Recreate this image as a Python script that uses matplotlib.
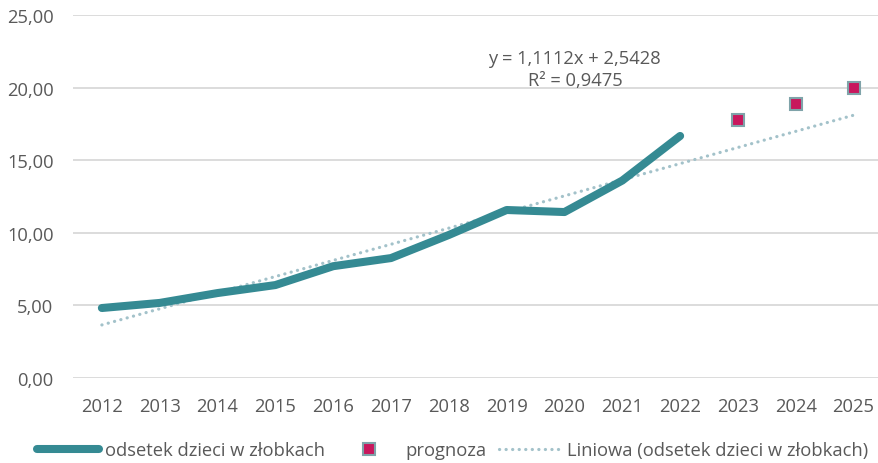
import numpy as np
import matplotlib
matplotlib.use("Agg")
from matplotlib import pyplot as plt

plt.rcParams['font.family'] = ['Open Sans', 'DejaVu Sans']

# odsetek dzieci w żłobkach (%)
lata = [2012, 2013, 2014, 2015, 2016, 2017, 2018, 2019, 2020, 2021, 2022]
odsetek = [4.82, 5.17, 5.85, 6.40, 7.70, 8.26, 9.85, 11.57, 11.43, 13.60, 16.67]

# prognoza
lata_prog = [2023, 2024, 2025]
prognoza = [17.77, 18.87, 19.97]

# linia trendu: y = a*x + b, x = 1..14
a = 1.1112
b = 2.5428
r2 = 0.9475

wszystkie_lata = lata + lata_prog
szary = '#595959'
fs = 13.2

fig = plt.figure(figsize=(8.79, 4.64), dpi=100)
ax = fig.add_axes([0.083, 0.1832, 0.921, 0.7823])

idx = np.arange(1, len(wszystkie_lata) + 1)
trend = a * idx + b

ax.plot(lata, odsetek, color='#358A93', lw=5.8, solid_capstyle='round',
        solid_joinstyle='round', label='odsetek dzieci w złobkach', zorder=3)
ax.plot(lata_prog, prognoza, ls='none', marker='s', ms=9, mfc='#C8175D',
        mec='#7FA3A9', mew=1.5, label='prognoza', zorder=4)
ax.plot(wszystkie_lata, trend, ls=(0, (0.05, 2.0)), lw=2.3, color='#A3C2CA',
        dash_capstyle='round', label='Liniowa (odsetek dzieci w złobkach)', zorder=2)

ax.set_xlim(2011.5, 2025.5)
ax.set_ylim(0, 25)
ax.set_xticks(wszystkie_lata)
yt = [0, 5, 10, 15, 20, 25]
ax.set_yticks(yt)
ax.set_yticklabels([('%.2f' % v).replace('.', ',') for v in yt])
ax.tick_params(length=0, labelsize=fs, colors=szary)
ax.tick_params(axis='y', pad=14)
ax.tick_params(axis='x', pad=14)
ax.grid(axis='y', color='#D9D9D9', lw=1.3)
ax.set_axisbelow(True)
for s in ax.spines.values():
    s.set_visible(False)

ax.text(2020.18, 21.28, 'y = %s' % f'{a:.4f}'.replace('.', ',') + 'x + ' + f'{b:.4f}'.replace('.', ',')
        + '\nR² = ' + f'{r2:.4f}'.replace('.', ','),
        ha='center', va='center', fontsize=fs, color=szary, linespacing=1.3)

fig.legend(loc='center', bbox_to_anchor=(0.515, 0.028), ncol=3, frameon=False,
           fontsize=fs, labelcolor=szary, handlelength=3.4, handletextpad=0.3,
           columnspacing=0.7)

fig.savefig('out.png', dpi=100)
